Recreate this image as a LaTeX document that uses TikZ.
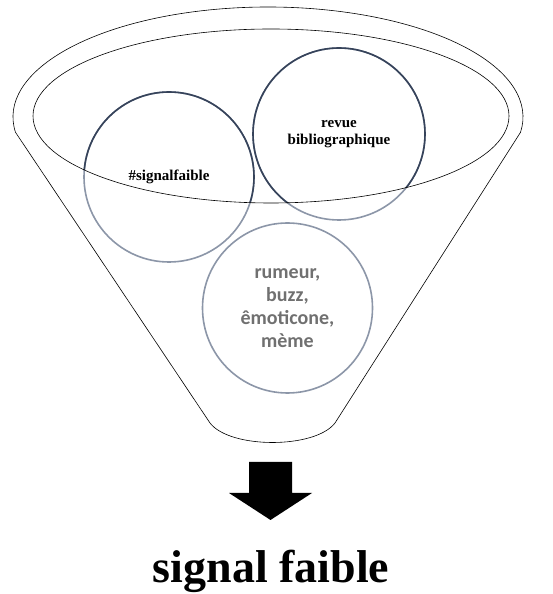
\documentclass[tikz,border=0pt]{standalone}
\usepackage{fontspec}
\setmainfont{Liberation Serif}
\newfontfamily\bubblefont{Carlito}
\definecolor{ringdark}{HTML}{36435A}
\definecolor{ringlight}{HTML}{8C96A8}
\definecolor{bubbletext}{HTML}{707070}
\begin{document}
\begin{tikzpicture}[x=1pt,y=1pt,
    ring/.style={circle, draw=ringlight, line width=1.6pt, minimum size=170},
    tag/.style={align=center, inner sep=0pt, font=\bfseries\fontsize{15}{17}\selectfont},
    funnel/.style={draw=black, line width=0.6pt}]
  \useasboundingbox (0,0) rectangle (552,594);
  % bubbles
  \node[ring] (sig) at (169,417) {};
  \node[ring, minimum size=172] (revue) at (339,460) {};
  \node[ring] (rumeur) at (287.5,286) {};
  \node[tag] (sigtxt) at (sig) {\#signalfaible};
  \node[tag] (revuetxt) at (revue) {revue\\bibliographique};
  \node[tag, text=bubbletext, font=\bubblefont\bfseries\fontsize{20}{23}\selectfont] (rumeurtxt) at (rumeur) {rumeur,\\buzz,\\êmoticone,\\mème};
  % darker rims inside the mouth
  \begin{scope}
    \clip (271,478) ellipse[x radius=238, y radius=87];
    \draw[ringdark, line width=1.6pt] (sig.center) circle[radius=85] (revue.center) circle[radius=86];
  \end{scope}
  % funnel
  \draw[funnel] (268,477) ++(188:255 and 110) arc[start angle=188, end angle=-8, x radius=255, y radius=110]
    -- (335,171) .. controls (315,145) and (230,145) .. (210,171) -- cycle;
  \draw[funnel] (271,478) ellipse[x radius=238, y radius=87];
  % arrow
  \fill (249,132) -- (292,132) -- (292,101) -- (312,101) -- (270.5,74) -- (229,101) -- (249,101) -- cycle;
  \node[anchor=base, font=\bfseries\fontsize{46}{52}\selectfont] (out) at (271,11) {signal faible};
\end{tikzpicture}
\end{document}
